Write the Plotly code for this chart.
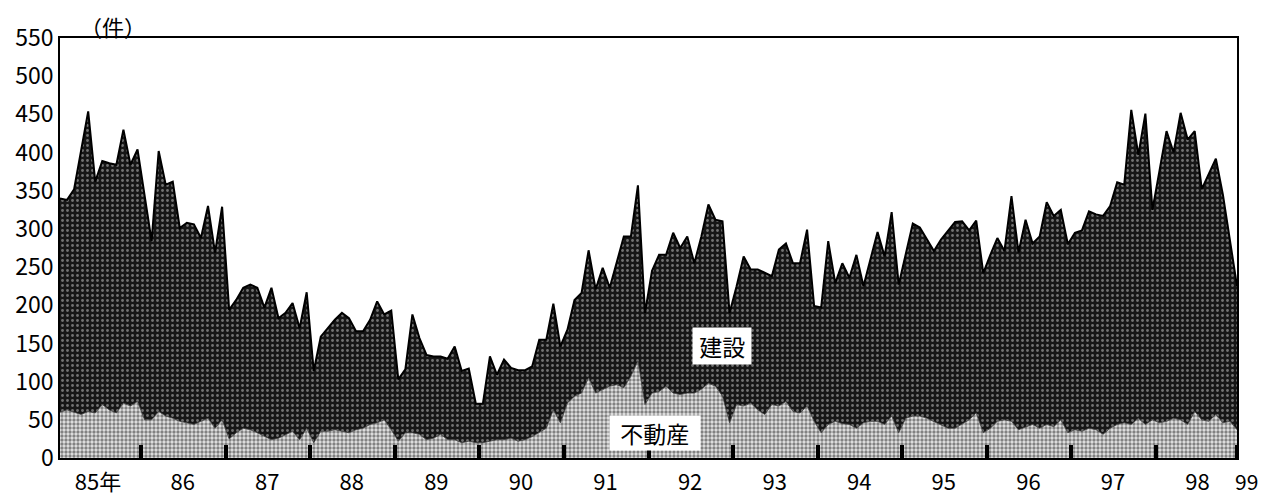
import numpy as np
import plotly.graph_objects as go

# Monthly bankruptcies, Jan 1985 - Dec 1998 (件)
construction = [
    340, 338, 352, 405, 454, 362, 389, 386, 384, 430, 384, 404,
    343, 284, 402, 358, 362, 301, 308, 306, 288, 330, 269, 329,
    194, 207, 223, 227, 223, 197, 223, 183, 190, 203, 170, 217,
    114, 159, 170, 181, 190, 183, 166, 166, 181, 205, 188, 193,
    103, 116, 188, 157, 135, 133, 133, 130, 146, 114, 117, 71,
    71, 133, 109, 129, 118, 115, 115, 120, 155, 155, 202, 146,
    168, 207, 216, 272, 221, 249, 223, 255, 290, 290, 357, 190,
    245, 266, 266, 295, 275, 290, 255, 290, 332, 312, 310, 190,
    225, 264, 247, 247, 242, 238, 273, 281, 255, 255, 299, 199,
    197, 284, 229, 255, 236, 266, 225, 260, 296, 264, 322, 227,
    269, 307, 302, 286, 271, 286, 297, 309, 310, 298, 311, 242,
    266, 288, 271, 343, 269, 312, 281, 290, 335, 317, 325, 280,
    295, 298, 323, 319, 317, 330, 361, 358, 456, 397, 451, 325,
    376, 428, 400, 452, 417, 428, 352, 373, 392, 345, 282, 225,
]
real_estate = [
    60, 63, 60, 57, 61, 59, 70, 63, 59, 72, 68, 74,
    50, 50, 61, 55, 52, 48, 46, 44, 48, 52, 39, 50,
    25, 33, 39, 37, 33, 28, 24, 26, 31, 35, 24, 39,
    20, 35, 35, 37, 35, 33, 37, 39, 44, 46, 50, 37,
    22, 33, 33, 31, 24, 26, 31, 24, 24, 20, 22, 20,
    20, 22, 24, 24, 26, 22, 24, 28, 33, 39, 63, 46,
    72, 81, 85, 105, 85, 90, 94, 96, 92, 107, 127, 70,
    85, 87, 94, 85, 83, 85, 85, 90, 98, 94, 81, 46,
    70, 68, 72, 63, 57, 70, 68, 74, 61, 59, 68, 48,
    33, 44, 48, 45, 44, 39, 46, 48, 48, 44, 55, 33,
    52, 55, 55, 52, 48, 44, 39, 39, 44, 50, 59, 33,
    39, 48, 50, 48, 37, 41, 44, 39, 44, 41, 50, 33,
    37, 35, 39, 37, 31, 39, 44, 46, 44, 52, 44, 50,
    46, 48, 52, 50, 44, 61, 50, 48, 57, 46, 48, 37,
]
start_year = 1985
year_labels = ["85年", "86", "87", "88", "89", "90", "91", "92", "93",
               "94", "95", "96", "97", "98"]
end_label = "99"
y_ticks = list(range(0, 551, 50))
series_names = ["建設", "不動産"]

n = len(construction)
x = start_year + np.arange(n) / 12.0
years = np.arange(start_year, start_year + len(year_labels))

FONT = "Noto Sans CJK JP"

fig = go.Figure()
fig.add_trace(go.Scatter(
    x=x, y=construction, mode="lines", fill="tozeroy",
    line=dict(color="black", width=2),
    fillcolor="#222222",
    fillpattern=dict(shape=".", bgcolor="#161616", fgcolor="#cfcfcf",
                     size=5, solidity=0.25),
    name=series_names[0], showlegend=False, hoverinfo="skip",
))
fig.add_trace(go.Scatter(
    x=x, y=real_estate, mode="lines", fill="tozeroy",
    line=dict(color="#444444", width=0.8),
    fillcolor="#b0b0b0",
    fillpattern=dict(shape=".", bgcolor="#e4e4e4", fgcolor="#1e1e1e",
                     size=4, solidity=0.55),
    name=series_names[1], showlegend=False, hoverinfo="skip",
))

x_end = x[-1]
fig.update_layout(
    width=1261, height=500,
    margin=dict(l=60, r=24, t=38, b=42),
    paper_bgcolor="white", plot_bgcolor="white",
    font=dict(family=FONT, color="black"),
    xaxis=dict(
        range=[start_year, x_end],
        automargin=False,
        tickmode="array",
        tickvals=list(years + 0.45),
        ticktext=year_labels,
        ticks="", showgrid=False, zeroline=False,
        ticklabelstandoff=4,
        showline=True, linecolor="black", linewidth=2, mirror=True,
        tickfont=dict(size=22, family=FONT),
        minor=dict(tickmode="array", tickvals=list(years[1:] - 1 / 24.0) + [x_end],
                   ticks="inside", ticklen=13, tickwidth=4, tickcolor="black",
                   showgrid=False),
    ),
    yaxis=dict(
        range=[0, 550], tickmode="array", tickvals=y_ticks,
        automargin=False,
        ticks="", showgrid=False, zeroline=False,
        showline=True, linecolor="black", linewidth=1.5, mirror=True,
        tickfont=dict(size=23, family=FONT),
    ),
    annotations=[
        dict(text="（件）", xref="paper", yref="paper", x=0.0, y=1.0,
             xanchor="left", yanchor="bottom", xshift=18, yshift=-6,
             showarrow=False, font=dict(size=22, family=FONT)),
        dict(text=end_label, xref="paper", yref="paper", x=1.0, y=0.0,
             xanchor="center", yanchor="top", xshift=9, yshift=-6,
             showarrow=False, font=dict(size=21, family=FONT)),
        dict(text=" " + series_names[0] + " ", x=1992.83, y=147, xref="x", yref="y",
             showarrow=False, bgcolor="white", font=dict(size=23, family=FONT),
             borderpad=1),
        dict(text="  " + series_names[1] + "  ", x=1992.03, y=33, xref="x", yref="y",
             showarrow=False, bgcolor="white", font=dict(size=23, family=FONT),
             borderpad=0),
    ],
)

# remove the browser's default 8px body margin so the figure fills the window
fig.write_html("out.html", config={"displayModeBar": False},
               post_script="document.body.style.margin='0px';document.body.style.overflow='hidden';")
